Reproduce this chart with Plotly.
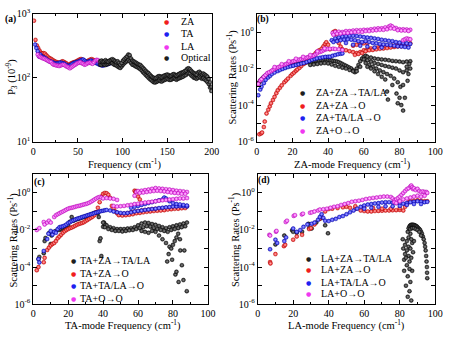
import numpy as np
import plotly.graph_objects as go

# ---------------- Panel (a): P3 vs frequency (values in 1e-9) ----------------
a_za = [(0.8,780),(2.5,390),(4,320),(5.5,290),(7,265),(8.5,245),(10,240),(11.5,242),(13,238),(14.5,225),
        (16,215),(17.5,205),(19,200),(20.5,195),(22,188),(23.5,182),(25,178),(26.5,175),(28,172),(29.5,170),
        (31,175),(32.5,180),(34,178),(35.5,172),(37,168),(38.5,160),(40,158),(41.5,165),(43,168),(44.5,172),
        (46,175),(47.5,178),(49,182),(50.5,188),(52,192),(53.5,196),(55,190),(56.5,185),(58,180),(59.5,178),
        (61,182),(62.5,188),(64,192),(65.5,195),(67,190),(68.5,185),(70,180),(71.5,176),(73,172),(74.5,170),
        (76,168),(77.5,165),(79,164),(80.5,166),(82,168),(83.5,170),(85,172),(86.5,175),(88,178)]
a_ta = [(2,330),(3.5,290),(5,260),(6.5,215),(8,230),(9.5,215),(11,210),(12.5,205),(14,200),(15.5,190),
        (17,185),(18.5,180),(20,178),(21.5,175),(23,170),(24.5,168),(26,165),(27.5,168),(29,170),(30.5,172),
        (32,170),(33.5,168),(35,165),(36.5,160),(38,155),(39.5,152),(41,155),(42.5,160),(44,165),(45.5,170),
        (47,172),(48.5,175),(50,178),(51.5,180),(53,185),(54.5,190),(56,192),(57.5,185),(59,178),(60.5,175),
        (62,178),(63.5,182),(65,185),(66.5,180),(68,175),(69.5,172),(71,168),(72.5,165),(74,160),(75.5,158),
        (77,155),(78.5,155),(80,158),(81.5,160),(83,162),(84.5,165),(86,168)]
a_la = [(5,230),(6.5,215),(8,210),(9.5,205),(11,200),(12.5,198),(14,192),(15.5,188),(17,182),(18.5,178),
        (20,175),(21.5,165),(23,160),(24.5,158),(26,155),(27.5,155),(29,152),(30.5,155),(32,158),(33.5,160),
        (35,158),(36.5,152),(38,148),(39.5,145),(41,140),(42.5,145),(44,150),(45.5,155),(47,160),(48.5,165),
        (50,170),(51.5,172),(53,175),(54.5,168),(56,165),(57.5,160),(59,162),(60.5,168),(62,170),(63.5,172),
        (65,168),(66.5,165),(68,175),(69.5,185),(71,190),(72.5,188),(74,180),(75.5,175),(77,172),(78.5,170),
        (80,168),(81.5,170),(83,172),(84.5,175),(86,178),(87.5,180),(89,182),(90.5,180)]
a_opt_upper = [(75,180),(76.5,185),(78,178),(79.5,182),(81,188),(82.5,180),(84,178),(85.5,185),(87,190),(88.5,195),
        (90,190),(91.5,182),(93,175),(94.5,180),(96,170),(97.5,160),(99,170),(100.5,185),(102,195),(103.5,205),
        (105,215),(106.5,230),(108,225),(109.5,200),(111,185),(112.5,180),(114,175),(115.5,170),(117,165),(118.5,160),
        (120,158),(121.5,150),(123,142),(124.5,135),(126,128),(127.5,122),(129,118),(130.5,112),(132,106),(133.5,102),
        (135,100),(136.5,98),(138,100),(139.5,104),(141,106),(142.5,104),(144,102),(145.5,106),(147,108),(148.5,110),
        (150,112),(151.5,110),(153,106),(154.5,108),(156,112),(157.5,114),(159,110),(160.5,108),(162,112),(163.5,115),
        (165,118),(166.5,120),(168,122),(169.5,126),(171,130),(172.5,138),(174,140),(175.5,135),(177,128),(178.5,122),
        (180,118),(181.5,115),(183,112),(184.5,120),(186,124),(187.5,118),(189,112),(190.5,116),(192,112),(193.5,108),
        (195,104),(196.5,96),(198,85),(199.5,72)]
a_opt_lower = [(75,160),(76.5,158),(78,165),(79.5,160),(81,158),(82.5,162),(84,165),(85.5,168),(87,172),(88.5,168),
        (90,162),(91.5,158),(93,155),(94.5,150),(96,145),(97.5,142),(99,150),(100.5,160),(102,168),(103.5,175),
        (105,182),(106.5,190),(108,180),(109.5,170),(111,160),(112.5,158),(114,152),(115.5,148),(117,145),(118.5,140),
        (120,135),(121.5,130),(123,122),(124.5,116),(126,110),(127.5,105),(129,100),(130.5,95),(132,92),(133.5,88),
        (135,85),(136.5,84),(138,86),(139.5,88),(141,90),(142.5,88),(144,87),(145.5,90),(147,92),(148.5,94),
        (150,96),(151.5,94),(153,92),(154.5,93),(156,96),(157.5,98),(159,95),(160.5,93),(162,96),(163.5,98),
        (165,100),(166.5,102),(168,104),(169.5,108),(171,110),(172.5,116),(174,118),(175.5,115),(177,108),(178.5,104),
        (180,100),(181.5,98),(183,96),(184.5,100),(186,104),(187.5,100),(189,96),(190.5,98),(192,94),(193.5,90),
        (195,86),(196.5,80),(198,70),(199.5,62)]

# ---------------- Panel (b): ZA-mode scattering rates, (freq, log10 rate) ----------------
b_zz_tala = [(1,-2.8),(1.5,-2.75),(2,-2.65),(3,-2.55),(4,-2.45),(5,-2.38),(6,-2.32),(7,-2.25),(8,-2.2),(9,-2.15),
        (10,-2.1),(11,-2.05),(12,-2.0),(13,-1.98),(14,-1.95),(15,-1.92),(16,-1.9),(17,-1.88),(18,-1.86),(19,-1.84),
        (20,-1.82),(21,-1.8),(22,-1.78),(23,-1.76),(24,-1.74),(25,-1.72),(26,-1.7),(27,-1.68),(28,-1.66),(29,-1.65),
        (30,-1.63),(31,-1.61),(32,-1.6),(33,-1.58),(34,-1.56),(35,-1.55),(36,-1.53),(37,-1.52),(38,-1.5),(39,-1.5),
        (40,-1.52),(41,-1.55),(42,-1.56),(43,-1.58),(44,-1.6),(45,-1.62),(46,-1.65),(47,-1.7),(48,-1.75),(49,-1.8),
        (50,-1.85),(51,-1.9),(52,-1.95),(53,-2.0),(54,-2.1),(55,-2.2),(56,-2.0),(57,-1.8),(58,-1.6),(59,-1.45),(60,-1.35),
        (30,-1.8),(32,-1.78),(34,-1.75),(36,-1.72),(38,-1.7),(40,-1.72),(42,-1.78),(44,-1.85),(46,-1.9),(48,-1.95),
        (50,-2.0),(52,-2.08),(54,-2.15),(56,-2.15),(58,-1.9),
        (61,-1.3),(62,-1.35),(64,-1.4),(66,-1.45),(68,-1.48),(70,-1.5),(72,-1.52),(74,-1.55),(76,-1.58),(78,-1.6),
        (80,-1.62),(82,-1.65),(84,-1.62),(86,-1.6),
        (60,-1.5),(62,-1.55),(64,-1.62),(66,-1.7),(68,-1.75),(70,-1.8),(72,-1.86),(74,-1.9),(76,-1.95),(78,-2.0),
        (80,-2.1),(82,-2.2),(84,-2.1),(86,-2.0),
        (61,-1.7),(63,-1.8),(65,-1.9),(67,-2.0),(69,-2.1),(71,-2.2),(73,-2.3),(75,-2.4),(77,-2.55),(79,-2.75),(80.5,-3.0),
        (62,-1.9),(64,-2.0),(66,-2.15),(68,-2.3),(70,-2.45),(72,-2.6),(73,-3.26),(73.5,-3.7),(76,-2.9),(78.3,-3.37),
        (79,-3.9),(80,-3.6),(81,-4.0),(82,-4.3),(83,-3.6),(82,-2.9),(84.5,-2.67),(85,-2.3),(85.5,-1.75),(84,-1.9)]
b_zz_o = [(1.5,-5.6),(2.5,-5.55),(3,-5.5),(4,-5.2),(4.5,-4.9),(5.5,-4.46),(6.5,-4.25),(7.3,-4.07),(8,-3.9),(9.1,-3.72),
        (10,-3.55),(11,-3.35),(11.8,-3.19),(13,-3.05),(14,-2.92),(15.5,-2.75),(16.5,-2.65),(17.5,-2.55),(19,-2.4),(20,-2.3),
        (21,-2.22),(22,-2.12),(22.8,-2.05),(24,-1.96),(25,-1.86),(26.4,-1.75),(27.5,-1.66),(28.5,-1.56),(30,-1.44),(31,-1.36),
        (32,-1.26),(33,-1.16),(33.7,-1.09),(35,-1.0),(36.4,-0.91),(37.4,-0.78),(38.3,-0.65),(39,-0.56),(40,-0.7),(41,-0.95),
        (43,0.0),(43.5,-0.06),(44,0.05),(44.5,-0.12),(45,-0.4),(46,-0.6),(47,-0.8),
        (48,-0.95),(50,-1.0),(52,-1.05),(54,-1.1),(56,-1.15),(58,-1.1),(60,-1.0),(62,-0.95),(64,-0.9),(66,-0.88),
        (68,-0.85),(70,-0.82),(72,-0.8),(74,-0.78),(76,-0.75),(78,-0.72),(80,-0.7),(82,-0.68),(84,-0.66),(86,-0.62),
        (55,-1.25),(57,-1.2),(59,-1.15),(61,-1.05),(63,-1.0),(65,-0.98),(67,-0.95),(69,-0.92),(71,-0.9),(73,-0.88),
        (75,-0.85),(77,-0.82),(79,-0.8),(81,-0.78),(83,-0.75),(85,-0.72),
        (54,-0.75),(56,-0.7),(58,-0.68),(60,-0.62),(62,-0.6)]
b_ztl_o = [(0.9,-3.46),(2,-3.15),(2.7,-3.0),(4,-2.8),(5,-2.62),(6.4,-2.49),(7.5,-2.4),(8.5,-2.3),(10,-2.22),(11.8,-2.14),
        (13,-2.08),(14.5,-2.02),(16,-1.97),(17.5,-1.92),(19,-1.88),(20.5,-1.84),(22,-1.8),(23.5,-1.77),(25,-1.73),(26.4,-1.7),
        (28,-1.64),(29.5,-1.58),(31,-1.52),(32.5,-1.48),(33.7,-1.44),(35.5,-1.41),(37,-1.38),(38.5,-1.36),(40,-1.35),(41,-1.35),
        (42.5,-1.3),(44,-1.26),(45.5,-1.22),(47,-1.19),(48,-1.17),
        (42,-0.45),(44,-0.35),(46,-0.3),(48,-0.25),(50,-0.22),(52,-0.2),(54,-0.2),(56,-0.22),(58,-0.25),(60,-0.28),
        (62,-0.3),(64,-0.32),(66,-0.35),(68,-0.38),(70,-0.42),(72,-0.45),(74,-0.48),(76,-0.5),(78,-0.55),(80,-0.58),
        (82,-0.6),(84,-0.62),(86,-0.65),
        (43,-0.55),(45,-0.5),(47,-0.45),(49,-0.42),(51,-0.4),(53,-0.42),(55,-0.45),(57,-0.5),(59,-0.55),(61,-0.5),
        (63,-0.55),(65,-0.6),(67,-0.62),(69,-0.65),(71,-0.68),(73,-0.7),(75,-0.72),(77,-0.75),(79,-0.78),(81,-0.8),
        (83,-0.82),(85,-0.85),
        (50,-0.6),(54,-0.7),(58,-0.75),(62,-0.8),(66,-0.85),(70,-0.85)]
b_zo_o = [(0.9,-2.84),(2,-2.65),(2.7,-2.58),(4,-2.45),(5,-2.35),(6,-2.25),(7,-2.2),(8.2,-2.14),(9,-2.08),(10,-2.02),
        (11,-1.97),(12,-1.93),(13,-1.89),(14,-1.85),(15.5,-1.79),(16.5,-1.75),(17.5,-1.71),(18.5,-1.67),(19.5,-1.63),(20.5,-1.6),
        (21.5,-1.57),(22.8,-1.53),(24,-1.5),(25,-1.48),(26,-1.45),(27,-1.43),(28,-1.4),(29,-1.37),(30,-1.35),(31,-1.32),
        (32,-1.28),(33,-1.22),(34,-1.16),(35.5,-1.09),(36.5,-1.05),(37.5,-1.0),(38.5,-0.96),(39.5,-0.93),(41,-0.92),(42.8,-0.91),
        (44,-0.93),(46,-0.95),(48,-0.98),
        (10,-1.92),(14,-1.76),(18,-1.6),(22,-1.46),(26,-1.36),(30,-1.26),(34,-1.06),(38,-0.9),
        (42.5,-0.05),(44,0.0),(46,0.02),(48,0.0),(50,0.05),(52,0.05),(54,0.08),(56,0.1),(58,0.1),(60,0.12),
        (62,0.12),(64,0.15),(66,0.18),(68,0.2),(70,0.2),(72,0.25),(74,0.3),(75,0.35),(76,0.3),(78,0.22),
        (80,0.15),(82,0.15),(84,0.14),(86,0.12),
        (43,-0.15),(45,-0.1),(47,-0.08),(49,-0.05),(51,-0.05),(53,-0.02),(55,0.0),(57,0.02),(59,0.0),(61,0.05),
        (63,0.05),(65,0.08),(67,0.1),(69,0.12),(71,0.12),(73,0.15),(75,0.2),(77,0.18),(79,0.1),(81,0.08),
        (83,0.08),(85,0.06),
        (82,-0.45),(83,-0.4),(84,-0.35),(85,-0.38),(86,-0.4)]

# ---------------- Panel (c): TA-mode scattering rates, (freq, log10 rate) ----------------
c_tz_tala = [(3,-3.57),(3.5,-3.45),(6,-3.25),(6.5,-2.6),(7,-2.43),(9,-2.17),(10,-2.75),(10.5,-2.3),(12,-2.1),(13,-2.05),
        (15,-2.0),(16,-1.95),(17,-1.9),(18,-1.85),(19,-1.8),(20,-1.74),(21,-1.55),(22,-1.3),(23,-1.5),(24,-1.45),
        (25,-1.42),(26,-1.4),(27,-1.36),(28,-1.33),(29,-1.3),(30,-1.27),(31,-1.24),(32,-1.2),(33,-1.16),(34,-1.12),
        (35,-1.08),(36,-1.05),(37,-1.1),(37.5,-1.3),(38,-2.6),(38.5,-2.45),(39,-3.4),(40,-1.83),(40.5,-1.6),(41,-1.7),
        (40,-1.6),(42,-1.75),(44,-1.85),(46,-1.9),(48,-1.95),(50,-1.95),(52,-1.95),(54,-1.92),(56,-1.9),(58,-1.85),
        (60,-1.75),(62,-1.65),(64,-1.6),(66,-1.62),(68,-1.68),(70,-1.72),(72,-1.78),(74,-1.85),(76,-1.9),(78,-1.85),
        (80,-1.8),(82,-1.75),(84,-1.7),(86,-1.65),(88,-1.6),
        (41,-1.85),(43,-1.95),(45,-2.0),(47,-2.05),(49,-2.05),(51,-2.08),(53,-2.05),(55,-2.02),(57,-2.0),(59,-1.95),
        (61,-1.9),(63,-1.85),(65,-1.8),(67,-1.82),(69,-1.9),(71,-1.95),(73,-2.0),(75,-2.05),(77,-2.1),(79,-2.0),
        (81,-1.95),(83,-1.9),(85,-1.85),(87,-1.8),
        (62,-2.05),(64,-2.1),(66,-2.15),(68,-2.05),
        (70,-2.1),(72,-2.3),(74,-2.5),(76,-2.7),(78,-2.9),(79,-3.0),(80,-2.8),(81,-2.6),(82,-2.4),(83,-2.2),(84,-2.5),
        (76.7,-3.7),(77.5,-3.3),(79.5,-3.6),(81.4,-4.4),(82,-4.25),(83.2,-4.8),(84.2,-3.1),(85.1,-3.9),(86,-4.7),
        (86.5,-3.1),(87.9,-5.3)]
c_tz_o = [(2,-4.17),(3,-4.0),(6,-3.74),(6.5,-3.5),(8,-3.08),(9,-2.95),(10,-2.83),(11,-2.75),(12,-2.7),(13,-2.6),
        (14,-2.45),(15,-2.35),(16,-2.25),(17,-2.15),(18,-2.07),(19,-2.0),(20,-1.95),(21,-1.9),(22,-1.87),(23,-1.82),
        (24,-1.77),(25,-1.72),(26,-1.68),(27,-1.65),(28,-1.62),(29,-1.58),(30,-1.52),(31,-1.46),(32,-1.4),(33,-1.34),
        (34,-1.28),(35,-1.2),(36,-1.05),(37,-0.8),(38,-0.5),(39,-0.2),(40,-0.05),(41,0.0),(42,-0.02),(43,-0.1),
        (44,-0.26),(45,-0.7),(46,-0.85),(47,-1.0),
        (48,-1.1),(50,-1.13),(52,-1.12),(54,-1.1),(56,-1.05),(58,-1.0),(60,-0.98),(62,-0.95),(64,-0.92),(66,-0.9),
        (68,-0.88),(70,-0.86),(72,-0.85),(74,-0.83),(76,-0.82),(78,-0.8),(80,-0.78),(82,-0.76),(84,-0.75),(86,-0.73),(88,-0.72),
        (49,-1.2),(51,-1.22),(53,-1.2),(55,-1.18),(57,-1.15),(59,-1.1),(61,-1.08),(63,-1.05),(65,-1.02),(67,-1.0),
        (69,-0.98),(71,-0.96),(73,-0.95),(75,-0.93),(77,-0.9),(79,-0.88),(81,-0.86),(83,-0.85),(85,-0.83),(87,-0.82),
        (58,0.12),(58.5,0.05),(59,0.1),(60,-0.2),(61,-0.35)]
c_ttl_o = [(3,-3.57),(3.5,-3.75),(6,-3.13),(8,-2.49),(8.7,-2.2),(10,-2.05),(11,-2.25),(12,-2.1),(13,-2.15),(14,-1.95),
        (15,-1.85),(16,-1.82),(17,-1.8),(18,-1.76),(19,-1.7),(20,-1.62),(21,-1.58),(22,-1.52),(23,-1.48),(24,-1.44),
        (25,-1.4),(26,-1.37),(27,-1.34),(28,-1.3),(29,-1.27),(30,-1.24),(31,-1.21),(32,-1.18),(33,-1.15),(34,-1.12),
        (35,-1.09),(36,-1.06),(37,-1.03),(38,-1.0),(39,-0.98),(40,-0.96),(41,-0.94),
        (42,-0.92),(44,-0.95),(46,-1.0),(48,-1.05),(50,-1.08),(52,-1.1),(54,-1.08),(56,-1.05),(58,-1.0),(60,-0.97),
        (62,-0.95),(64,-0.92),(66,-0.9),(68,-0.87),(70,-0.85),(72,-0.82),(74,-0.8),(76,-0.78),(78,-0.76),(80,-0.74),
        (82,-0.73),(84,-0.72),(86,-0.72),(88,-0.74),
        (56,-0.8),(58,-0.75),(60,-0.7),(62,-0.65),(64,-0.6),(66,-0.55),(68,-0.5),(70,-0.45),(72,-0.4),(74,-0.35),
        (75,-0.25),(76,-0.3),(78,-0.45),(80,-0.55),(82,-0.6),(84,-0.62),(86,-0.65),(88,-0.68)]
c_to_o = [(2,-2.0),(3.5,-1.9),(6,-1.57),(6.5,-1.7),(8,-1.6),(9,-1.5),(10,-1.6),(12,-1.3),(13,-1.2),(14,-1.15),
        (15,-1.1),(16,-1.05),(17,-1.0),(18,-0.95),(19,-0.9),(20,-0.85),(21,-0.82),(22,-0.8),(23,-0.78),(24,-0.75),
        (25,-0.72),(26,-0.7),(27,-0.68),(28,-0.65),(29,-0.62),(30,-0.6),(31,-0.57),(32,-0.53),(33,-0.48),(34,-0.42),
        (35,-0.36),(36,-0.3),(37,-0.25),(38,-0.22),(39,-0.25),(40,-0.3),(42,-0.28),(44,-0.3),(46,-0.32),(48,-0.38),
        (46,-0.7),(48,-0.73),(50,-0.72),(52,-0.7),(54,-0.67),(56,-0.64),(58,-0.6),(60,-0.58),(62,-0.55),(64,-0.52),
        (66,-0.5),(68,-0.48),(70,-0.45),(72,-0.42),(74,-0.4),(76,-0.38),(78,-0.36),(80,-0.34),(82,-0.32),(84,-0.3),
        (86,-0.3),(88,-0.28),
        (58,-0.15),(59,0.05),(60,0.1),(62,0.12),(64,0.15),(66,0.18),(68,0.22),(70,0.26),(72,0.24),(74,0.22),
        (76,0.2),(78,0.18),(80,0.15),(82,0.12),(84,0.1),(86,0.08),(88,0.05),
        (61,0.0),(63,0.02),(65,0.05),(67,0.08),(69,0.1),(71,0.12),(73,0.1),(75,0.08),(77,0.05),(79,0.02),
        (81,0.0),(83,-0.02),(85,-0.05),(87,-0.05)]

# ---------------- Panel (d): LA-mode scattering rates, (freq, log10 rate) ----------------
d_lz_tala = [(10,-2.78),(15,-2.3),(19.4,-2.02),(20,-2.1),(22,-2.15),(25,-2.09),(28.6,-1.67),(29,-1.9),(30.4,-1.92),(33,-1.6),
        (35,-1.4),(35.9,-1.33),(38,-1.75),(39.6,-2.18),
        (81.7,-2.5),(82,-3.0),(82.5,-3.6),(82.5,-4.2),(83,-2.8),(83,-3.3),(83.5,-5.0),(84,-2.6),(84,-3.1),(84,-3.9),
        (84.5,-5.6),(84.5,-4.5),(85,-2.9),(85,-3.4),(85,-2.4),(85.5,-3.7),(85.5,-5.3),(86,-2.2),(86,-3.0),(86,-4.8),
        (86.5,-3.5),(86.5,-5.8),(87,-2.7),(87,-4.2),(87.5,-3.2),(88,-2.6),(83.5,-3.5),(85.5,-4.1),(86.5,-2.5),
        (84.5,-2.1),(85,-1.9),(85.5,-1.8),(86,-1.75),(86.5,-1.72),(87,-1.72),(87.5,-1.72),(88,-1.73),(88.5,-1.75),(89,-1.78),
        (89.5,-1.8),(90,-1.85),(90.5,-1.9),(91,-1.95),(91.5,-2.0),(92,-2.1),(92.5,-2.2),(93,-2.35),(93.5,-2.5),(94,-2.7),
        (94.3,-2.9),(94.6,-3.1),(94.9,-3.4),(95.1,-3.7),(95.3,-4.0),(95.4,-4.3),(95.5,-4.6),
        (86,-1.95),(87,-1.9),(88,-1.9),(89,-1.95),(90,-2.0),(91,-2.1),(92,-2.3)]
d_lz_o = [(7,-3.73),(7.2,-3.8),(10,-3.3),(14.8,-2.87),(15.5,-2.8),(20,-2.52),(22,-2.35),(25,-2.26),(29,-1.95),(30,-1.9),
        (32,-1.7),(35,-1.39),(36,-1.3),(38,-1.0),(40,-0.87),(42,-0.85),(45,-0.82),(48,-0.78),(50,-0.75),(52,-0.8),
        (55,-0.85),(58,-0.95),(60,-0.98),(62,-1.0),(64,-1.0),(66,-0.98),(68,-0.97),(70,-0.96),(72,-0.95),(74,-0.95),
        (76,-0.94),(78,-0.93),(80,-0.92),(82,-0.95),(83,-0.75),(84,-0.6),(85,-0.5),(86,-0.45),(88,-0.42),(90,-0.4),
        (92,-0.42),(94,-0.45),(95.5,-0.45),
        (55,-0.72),(60,-0.78),(65,-0.82),(70,-0.85),(75,-0.85),(80,-0.82)]
d_ltl_o = [(7,-3.04),(10,-2.52),(11,-2.7),(15,-2.6),(16,-2.4),(20,-1.92),(22,-2.1),(24,-2.0),(25.8,-1.83),(28,-1.7),
        (30.4,-1.66),(32,-1.6),(34,-1.45),(35,-1.3),(36,-1.15),(37,-1.35),(38,-1.5),(40,-1.52),(42,-1.45),(44,-1.4),
        (46,-1.3),(48,-1.25),(50,-1.15),(52,-1.05),(54,-0.95),(56,-0.85),(58,-0.75),(60,-0.68),(62,-0.63),(64,-0.6),
        (66,-0.57),(68,-0.55),(70,-0.52),(72,-0.5),(74,-0.5),(76,-0.52),(78,-0.55),(80,-0.55),(82,-0.58),(84,-0.55),
        (86,-0.5),(88,-0.48),(90,-0.45),(92,-0.47),(94,-0.5),(95.5,-0.48),
        (60,-0.85),(64,-0.8),(68,-0.75),(72,-0.72),(76,-0.72),(80,-0.7),(84,-0.65),(88,-0.6),(92,-0.6)]
d_lo_o = [(6.6,-2.26),(7,-2.3),(10.3,-2.09),(10.6,-2.05),(15.8,-1.57),(16.5,-1.5),(20.3,-1.24),(21,-1.2),(24.9,-1.16),(25.5,-1.12),
        (29.5,-1.07),(30.5,-1.05),(32,-1.0),(34,-0.95),(35,-0.9),(37,-0.88),(39,-0.85),(41,-0.8),(43,-0.75),(45,-0.72),
        (47,-0.65),(49,-0.6),(51,-0.55),(53,-0.48),(55,-0.45),(57,-0.42),(59,-0.38),(61,-0.33),(63,-0.3),(65,-0.27),
        (67,-0.25),(69,-0.22),(71,-0.2),(73,-0.2),(75,-0.22),(76,-0.3),(77,-0.4),(78,-0.35),(79,-0.28),(80,-0.2),
        (81,-0.1),(82,0.0),(83,0.1),(84,0.2),(85,0.25),(86,0.35),(86.5,0.4),(87,0.3),(87.5,0.2),(88,0.25),
        (89,0.15),(90,0.22),(91,0.1),(92,0.05),(93,0.08),(94,0.05),(95,0.05),(95.5,0.0),
        (77,-0.5),(78,-0.55),(80,-0.45),(82,-0.35),(84,-0.3),(86,-0.25),(88,-0.2),(90,-0.15),(92,-0.2),(94,-0.15)]

# tick labels
a_x_ticks = [0, 50, 100, 150, 200]
a_y_ticks = [10, 100, 1000]
a_y_labels = ['10<sup>1</sup>', '10<sup>2</sup>', '10<sup>3</sup>']
rate_major = [1e-6, 1e-4, 1e-2, 1e0]
rate_labels = ['10<sup>-6</sup>', '10<sup>-4</sup>', '10<sup>-2</sup>', '10<sup>0</sup>']
rate_minor = [1e-5, 1e-3, 1e-1, 1e1]

# ---------------- styling ----------------
RED = dict(color='#f01e1e', line='#a00000', glow='#ffb0b0')
BLUE = dict(color='#2020f0', line='#00008c', glow='#a8a8ff')
MAG = dict(color='#f038f0', line='#a000a0', glow='#ffc8ff')
BLK = dict(color='#1e1e1e', line='#000000', glow='#8a8a8a')
FONT = '"Liberation Serif", "Times New Roman", Times, serif'

fig = go.Figure()


def add(pts, style, xa, ya, logy=True):
    xs = [p[0] for p in pts]
    ys = [10 ** p[1] for p in pts] if logy else [p[1] for p in pts]
    fig.add_trace(go.Scatter(
        x=xs, y=ys, mode='markers', xaxis=xa, yaxis=ya, showlegend=False, hoverinfo='x+y',
        marker=dict(size=4, color=style['color'],
                    gradient=dict(type='radial', color=style['glow']),
                    line=dict(width=0.4, color=style['line']))))


add(a_za, RED, 'x', 'y', logy=False)
add(a_ta, BLUE, 'x', 'y', logy=False)
add(a_la, MAG, 'x', 'y', logy=False)
add(a_opt_lower + a_opt_upper, BLK, 'x', 'y', logy=False)

add(b_zz_tala, BLK, 'x2', 'y2')
add(b_zz_o, RED, 'x2', 'y2')
add(b_ztl_o, BLUE, 'x2', 'y2')
add(b_zo_o, MAG, 'x2', 'y2')

add(c_tz_tala, BLK, 'x3', 'y3')
add(c_tz_o, RED, 'x3', 'y3')
add(c_ttl_o, BLUE, 'x3', 'y3')
add(c_to_o, MAG, 'x3', 'y3')

add(d_lz_tala, BLK, 'x4', 'y4')
add(d_lz_o, RED, 'x4', 'y4')
add(d_ltl_o, BLUE, 'x4', 'y4')
add(d_lo_o, MAG, 'x4', 'y4')

W, H = 453, 340


def px(x):
    return x / W


def py(y):
    return 1 - y / H


ax_common = dict(showline=True, linecolor='black', linewidth=1, mirror='ticks', ticks='inside',
                 ticklen=4, tickwidth=1, tickcolor='black', showgrid=False, zeroline=False,
                 tickfont=dict(family=FONT, size=10, color='black'))

xminor = dict(ticks='inside', ticklen=2, dtick=10, tickcolor='black')
yminor = dict(ticks='inside', ticklen=4, tickvals=rate_minor, tickcolor='black')

layout = dict(
    width=W, height=H, margin=dict(l=0, r=0, t=0, b=0),
    paper_bgcolor='white', plot_bgcolor='white', showlegend=False,
    font=dict(family=FONT, size=10, color='black'),
    xaxis=dict(domain=[px(31), px(214)], range=[0, 200], tickvals=a_x_ticks, anchor='y',
               minor=dict(ticks='inside', ticklen=2, dtick=25, tickcolor='black'), **ax_common),
    yaxis=dict(domain=[py(140), py(7)], type='log', range=[1, 3], tickvals=a_y_ticks,
               ticktext=a_y_labels, anchor='x', **ax_common),
    xaxis2=dict(domain=[px(260), px(443)], range=[0, 100], dtick=20, anchor='y2', minor=xminor, **ax_common),
    yaxis2=dict(domain=[py(140), py(7)], type='log', range=[-6, 1], tickvals=rate_major, ticktext=rate_labels,
                minor=yminor, anchor='x2', **ax_common),
    xaxis3=dict(domain=[px(31), px(210)], range=[0, 100], dtick=20, anchor='y3', minor=xminor, **ax_common),
    yaxis3=dict(domain=[py(309), py(174)], type='log', range=[-6, 1], tickvals=rate_major, ticktext=rate_labels,
                minor=yminor, anchor='x3', **ax_common),
    xaxis4=dict(domain=[px(261), px(443)], range=[0, 100], dtick=20, anchor='y4', minor=xminor, **ax_common),
    yaxis4=dict(domain=[py(309), py(174)], type='log', range=[-6, 1], tickvals=rate_major, ticktext=rate_labels,
                minor=yminor, anchor='x4', **ax_common),
)
fig.update_layout(**layout)

ann = []


def text(x, y, s, size=10.5, angle=0, xanchor='center', bold=False, color='black'):
    ann.append(dict(x=px(x), y=py(y), xref='paper', yref='paper', text=('<b>%s</b>' % s) if bold else s,
                    showarrow=False, textangle=angle, xanchor=xanchor, yanchor='middle',
                    font=dict(family=FONT, size=size, color=color)))


# axis titles
text(125, 163, 'Frequency (cm<sup>-1</sup>)')
text(358, 163, 'ZA-mode Frequency (cm<sup>-1</sup>)')
text(123, 331, 'TA-mode Frequency (cm<sup>-1</sup>)')
text(352, 331, 'LA-mode Frequency (cm<sup>-1</sup>)')
text(9, 73, 'P<sub>3</sub> (10<sup>-9</sup>)', angle=-90)
text(235, 73, 'Scattering Rates (Ps<sup>-1</sup>)', angle=-90)
text(10, 242, 'Scattering Rates (Ps<sup>-1</sup>)', angle=-90)
text(237, 242, 'Scattering Rates (Ps<sup>-1</sup>)', angle=-90)

# panel labels
text(8, 13, '(a)', size=9.5, bold=True)
text(266, 13, '(b)', size=9.5, bold=True)
text(37, 182, '(c)', size=9.5, bold=True)
text(267, 180, '(d)', size=9.5, bold=True)


# legends (symbol + label)
def legend(x_sym, x_txt, ys, labels, styles):
    for y, lab, st in zip(ys, labels, styles):
        ann.append(dict(x=px(x_sym), y=py(y), xref='paper', yref='paper', text='\u25cf', showarrow=False,
                        xanchor='center', yanchor='middle',
                        font=dict(family='DejaVu Sans', size=6, color=st['color'])))
        text(x_txt, y, lab, size=10, xanchor='left')


legend(168, 180, [15, 28, 41, 53], ['ZA', 'TA', 'LA', 'Optical'], [RED, BLUE, MAG, BLK])
legend(307, 319, [89, 102, 115, 128],
       ['ZA+ZA\u2192TA/LA', 'ZA+ZA\u2192O', 'ZA+TA/LA\u2192O', 'ZA+O\u2192O'], [BLK, RED, BLUE, MAG])
legend(72, 77, [264, 277, 290, 303],
       ['TA+ZA\u2192TA/LA', 'TA+ZA\u2192O', 'TA+TA/LA\u2192O', 'TA+O\u2192O'], [BLK, RED, BLUE, MAG])
legend(313, 324, [261, 273, 286, 298],
       ['LA+ZA\u2192TA/LA', 'LA+ZA\u2192O', 'LA+TA/LA\u2192O', 'LA+O\u2192O'], [BLK, RED, BLUE, MAG])

fig.update_layout(annotations=ann)
fig.write_html('out.html')
